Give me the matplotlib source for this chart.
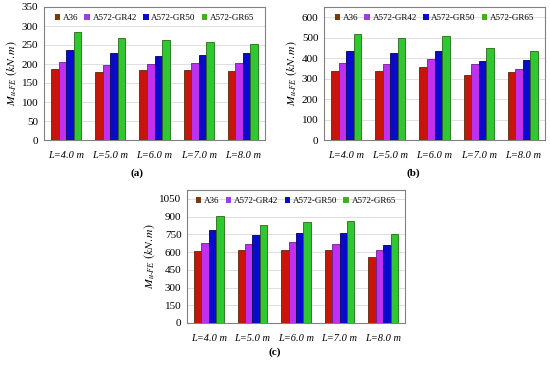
import numpy as np
import matplotlib.pyplot as plt

plt.rcParams['font.family'] = ['Liberation Serif', 'DejaVu Serif']
plt.rcParams['mathtext.fontset'] = 'stix'

lengths = ['4.0', '5.0', '6.0', '7.0', '8.0']
series = ['A36', 'A572-GR42', 'A572-GR50', 'A572-GR65']

# panel (a)
a_A36 = [187, 180, 185, 185, 181]
a_GR42 = [205, 197, 201, 202, 202]
a_GR50 = [238, 229, 221, 224, 228]
a_GR65 = [285, 268, 263, 258, 252]
# panel (b)
b_A36 = [337, 337, 355, 320, 330]
b_GR42 = [376, 370, 394, 372, 345]
b_GR50 = [433, 425, 436, 388, 392]
b_GR65 = [517, 498, 510, 452, 434]
# panel (c)
c_A36 = [610, 615, 620, 620, 560]
c_GR42 = [680, 668, 682, 672, 618]
c_GR50 = [790, 745, 760, 760, 660]
c_GR65 = [905, 825, 858, 865, 752]

colors = ['#c8140a', '#c030f0', '#0a0acc', '#30c830']
edges = ['#5a2a08', '#6a2090', '#000060', '#2a6a10']
legend_cols = ['#7a3a0a', '#9a40e0', '#0a0acc', '#40b020']

W, H = 550, 367
fig = plt.figure(figsize=(W / 100, H / 100), dpi=100)


def panel(rect, data, ymax, step, label, lx, ly):
    l, t, r, b = rect
    ax = fig.add_axes([l / W, 1 - b / H, (r - l) / W, (b - t) / H])
    x = np.arange(len(lengths))
    w = 0.17
    for i, vals in enumerate(data):
        ax.bar(x + (i - 1.5) * w, vals, w, color=colors[i], edgecolor=edges[i],
               linewidth=0.6, zorder=3)
    for i, s in enumerate(series):
        ax.bar([0], [0], color=legend_cols[i], label=s)
    ax.set_xlim(-0.5, len(lengths) - 0.5)
    ax.set_ylim(0, ymax)
    ax.set_yticks(np.arange(0, ymax + 1, step))
    ax.yaxis.grid(True, color='#d9d9d9', linewidth=0.6, zorder=0)
    ax.set_xticks(x)
    ax.set_xticklabels(['L=' + v + ' m' for v in lengths], fontstyle='italic')
    ax.tick_params(axis='x', labelsize=7.5, length=0, pad=8)
    ax.tick_params(axis='y', labelsize=8, length=0, pad=4)
    for sp in ax.spines.values():
        sp.set_color('#808080')
        sp.set_linewidth(0.8)
    ax.set_ylabel(r'$M_{u\text{-}FE}\ (kN.m)$', fontsize=8.5, labelpad=2)
    ax.legend(loc='upper center', ncol=4, frameon=False, fontsize=6.5,
              handlelength=0.6, handleheight=0.6, handletextpad=0.3,
              columnspacing=0.7, borderaxespad=0.4)
    fig.text(lx / W, 1 - ly / H, label, fontsize=8, fontweight='bold',
             ha='center', va='center')
    return ax


panel((44, 7, 265, 140), [a_A36, a_GR42, a_GR50, a_GR65], 350, 50, '(a)', 137, 173)
panel((324, 7, 545, 140), [b_A36, b_GR42, b_GR50, b_GR65], 650, 100, '(b)', 413, 173)
panel((187, 190, 405, 323), [c_A36, c_GR42, c_GR50, c_GR65], 1125, 150, '(c)', 275, 352)

fig.savefig('out.png', dpi=100)
